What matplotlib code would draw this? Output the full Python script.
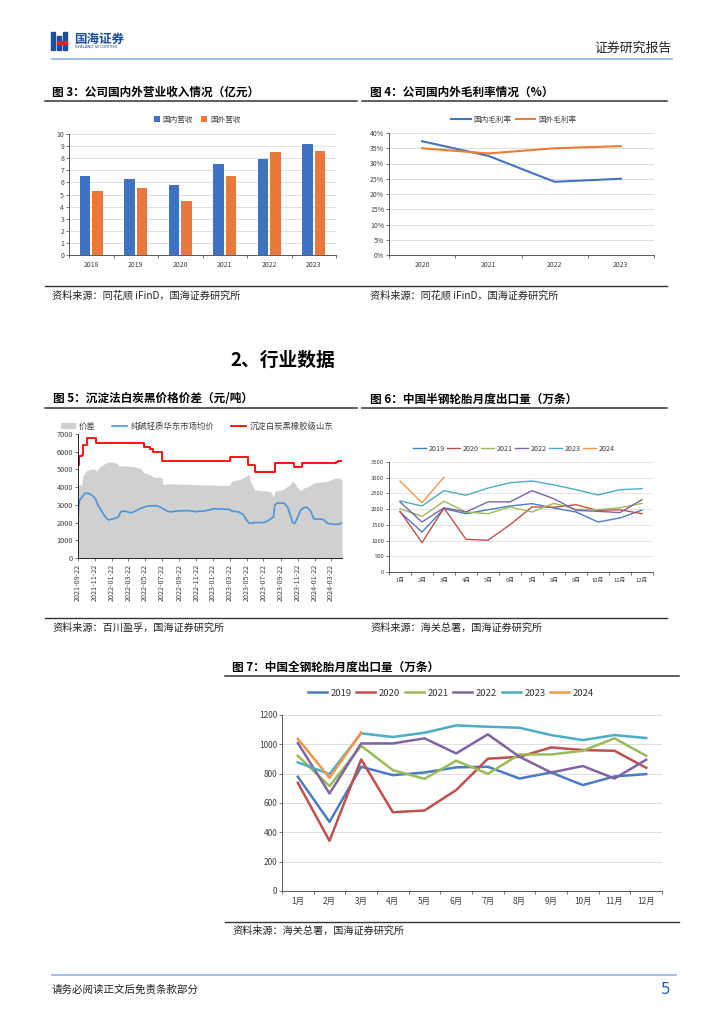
import matplotlib
matplotlib.use("Agg")
import matplotlib.pyplot as plt
from matplotlib.lines import Line2D
from matplotlib.patches import Rectangle
import numpy as np
import pandas as pd

plt.rcParams['font.family'] = ['Noto Sans CJK SC', 'DejaVu Sans']
plt.rcParams['axes.unicode_minus'] = False

# ---- 图3 国内外营收（亿元）
rev_years = ['2018', '2019', '2020', '2021', '2022', '2023']
rev_domestic = [6.5, 6.3, 5.8, 7.55, 7.9, 9.15]
rev_overseas = [5.25, 5.55, 4.45, 6.5, 8.55, 8.6]

# ---- 图4 国内外毛利率
gm_years = ['2020', '2021', '2022', '2023']
gm_domestic = [0.373, 0.325, 0.240, 0.250]
gm_overseas = [0.350, 0.333, 0.350, 0.357]

# ---- 图5 白炭黑价差（元/吨）
spread_dates = ['2021-09-22', '2021-10-05', '2021-10-10', '2021-10-24', '2021-11-17',
                '2021-11-27', '2021-12-09', '2021-12-30', '2022-01-11', '2022-02-04',
                '2022-02-16', '2022-03-18', '2022-04-11', '2022-05-05', '2022-05-19',
                '2022-06-10', '2022-06-22', '2022-07-22', '2022-07-25', '2022-08-09',
                '2022-11-01', '2023-02-05', '2023-03-23', '2023-03-31', '2023-04-30',
                '2023-05-24', '2023-06-01', '2023-06-05', '2023-06-21', '2023-08-16',
                '2023-08-27', '2023-09-02', '2023-09-28', '2023-10-22', '2023-11-06',
                '2023-11-21', '2023-12-03', '2023-12-15', '2024-01-02', '2024-01-20',
                '2024-02-25', '2024-03-20', '2024-04-13', '2024-04-30']
spread_vals = [4150, 4100, 4650, 4950, 5050, 4900, 5150, 5350, 5420, 5400,
               5200, 5200, 5150, 5050, 4800, 4700, 4550, 4550, 4150, 4200,
               4150, 4100, 4100, 4350, 4450, 4650, 4750, 4300, 3850, 3750,
               3450, 3800, 3850, 4100, 4350, 4000, 3800, 3950, 4050, 4250,
               4300, 4400, 4550, 4450]

soda_dates = ['2021-09-22', '2021-09-27', '2021-10-05', '2021-10-16', '2021-10-30',
              '2021-11-15', '2021-11-25', '2021-12-02', '2021-12-12', '2021-12-24',
              '2022-01-05', '2022-01-13', '2022-01-23', '2022-02-07', '2022-02-16',
              '2022-02-22', '2022-03-06', '2022-03-20', '2022-04-01', '2022-04-17',
              '2022-05-05', '2022-05-23', '2022-06-10', '2022-07-04', '2022-07-18',
              '2022-08-03', '2022-08-19', '2022-09-14', '2022-10-20', '2022-11-19',
              '2022-12-19', '2023-01-06', '2023-01-24', '2023-03-19', '2023-03-31',
              '2023-04-24', '2023-05-10', '2023-05-22', '2023-06-01', '2023-06-17',
              '2023-07-23', '2023-08-07', '2023-08-20', '2023-08-27', '2023-09-01',
              '2023-09-10', '2023-10-04', '2023-10-16', '2023-10-25', '2023-11-04',
              '2023-11-11', '2023-11-21', '2023-12-03', '2023-12-15', '2023-12-27',
              '2024-01-08', '2024-01-20', '2024-02-13', '2024-02-25', '2024-03-10',
              '2024-04-01', '2024-04-19', '2024-04-30']
soda_vals = [2450, 3250, 3400, 3650, 3650, 3500, 3300, 3000, 2750, 2450,
             2200, 2150, 2200, 2250, 2350, 2600, 2650, 2600, 2550, 2650,
             2800, 2900, 2950, 2950, 2850, 2700, 2600, 2650, 2680, 2620,
             2650, 2700, 2780, 2750, 2650, 2600, 2450, 2150, 1950, 2000,
             2000, 2100, 2250, 2300, 3000, 3100, 3100, 2900, 2500, 2000,
             1950, 2250, 2700, 2850, 2850, 2650, 2200, 2200, 2150, 1950,
             1900, 1900, 2000]

silica_dates = ['2021-09-22', '2021-09-26', '2021-10-05', '2021-10-10', '2021-10-24',
                '2021-11-26', '2022-05-18', '2022-06-10', '2022-06-19', '2022-07-22',
                '2023-03-25', '2023-05-29', '2023-06-21', '2023-09-02', '2023-11-09',
                '2023-12-09', '2024-04-07', '2024-04-15', '2024-04-30']
silica_vals = [5250, 5750, 5800, 6400, 6750, 6500, 6250, 6150, 6000, 5500,
               5700, 5250, 4850, 5350, 5150, 5350, 5400, 5500, 5500]

date_ticks = ['2021-09-22', '2021-11-22', '2022-01-22', '2022-03-22', '2022-05-22',
              '2022-07-22', '2022-09-22', '2022-11-22', '2023-01-22', '2023-03-22',
              '2023-05-22', '2023-07-22', '2023-09-22', '2023-11-22', '2024-01-22',
              '2024-03-22']

# ---- 图6/图7 月度出口量（万条）
months = ['1月', '2月', '3月', '4月', '5月', '6月', '7月', '8月', '9月', '10月', '11月', '12月']
series_years = ['2019', '2020', '2021', '2022', '2023', '2024']
year_colors = ['#4A7CC4', '#C0504D', '#9BBB59', '#8064A2', '#4BACC6', '#F79646']

semi_2019 = [1910, 1270, 2015, 1855, 1980, 2100, 2175, 2035, 1910, 1590, 1720, 1970]
semi_2020 = [1930, 935, 2035, 1040, 1010, 1505, 2070, 2060, 2140, 1960, 1980, 1855]
semi_2021 = [2015, 1770, 2250, 1910, 1855, 2070, 1910, 2185, 1995, 1985, 2045, 2185]
semi_2022 = [2230, 1590, 2045, 1910, 2230, 2230, 2590, 2330, 1960, 1930, 1890, 2300]
semi_2023 = [2260, 2100, 2590, 2440, 2670, 2840, 2895, 2770, 2620, 2450, 2620, 2650]
semi_2024 = [2895, 2205, 3020]

truck_2019 = [779, 471, 847, 790, 808, 843, 847, 767, 808, 722, 781, 797]
truck_2020 = [738, 342, 897, 537, 549, 688, 902, 915, 979, 961, 956, 840]
truck_2021 = [922, 715, 990, 824, 765, 888, 799, 931, 931, 956, 1041, 922]
truck_2022 = [1009, 665, 1006, 1006, 1041, 938, 1068, 915, 808, 852, 767, 895]
truck_2023 = [877, 797, 1075, 1050, 1079, 1129, 1120, 1113, 1063, 1029, 1063, 1043]
truck_2024 = [1038, 772, 1081]

W, H = 724, 1024
fig = plt.figure(figsize=(7.24, 10.24), dpi=100)


def box(l, t, r, b):
    return [l / W, 1 - b / H, (r - l) / W, (b - t) / H]


def txt(x, y, s, **kw):
    kw.setdefault('va', 'center')
    fig.text(x / W, 1 - y / H, s, **kw)


def hline(x0, x1, y, color='#333333', lw=1.0):
    fig.add_artist(Line2D([x0 / W, x1 / W], [1 - y / H, 1 - y / H], color=color, lw=lw))


def style(ax, fs=5):
    for s in ['top', 'right']:
        ax.spines[s].set_visible(False)
    for s in ['left', 'bottom']:
        ax.spines[s].set_color('#404040')
        ax.spines[s].set_linewidth(0.6)
    ax.tick_params(labelsize=fs, colors='#404040', length=2, width=0.5, pad=1.5)
    ax.set_axisbelow(True)


def cat_axis(ax, labels, fs):
    n = len(labels)
    ax.set_xlim(-0.5, n - 0.5)
    ax.set_xticks(range(n))
    ax.set_xticklabels(labels)
    ax.set_xticks(np.arange(-0.5, n, 1), minor=True)
    ax.tick_params(axis='x', which='major', length=0, labelsize=fs, pad=4)
    ax.tick_params(axis='x', which='minor', length=2.5, width=0.5, color='#404040')


# ---------- header ----------
fig.add_artist(Rectangle((51 / W, 1 - 50 / H), 4 / W, 18 / H, color='#1B4E9B', transform=fig.transFigure))
fig.add_artist(Rectangle((57 / W, 1 - 50 / H), 4 / W, 14 / H, color='#1B4E9B', transform=fig.transFigure))
fig.add_artist(Rectangle((63 / W, 1 - 50 / H), 4 / W, 18 / H, color='#1B4E9B', transform=fig.transFigure))
fig.add_artist(Rectangle((57 / W, 1 - 44 / H), 10 / W, 3 / H, color='#D7262E', transform=fig.transFigure))
txt(74, 39, '国海证券', fontsize=9, color='#1B4E9B', fontweight='bold')
txt(75, 47.5, 'SEALAND SECURITIES', fontsize=2.8, color='#1B4E9B', family=['DejaVu Sans'])
txt(672, 48, '证券研究报告', fontsize=9.3, color='#222222', ha='right')
hline(52, 672, 59, color='#8EB4E3', lw=1.2)

# ---------- 图3 ----------
txt(52, 92, '图 3：公司国内外营业收入情况（亿元）', fontsize=8.4, fontweight='bold')
hline(45, 357, 101, lw=1.1)
ax3 = fig.add_axes(box(69, 134, 336, 255))
style(ax3)
x = np.arange(len(rev_years))
ax3.bar(x - 0.14, rev_domestic, 0.23, color='#3F72C4', label='国内营收')
ax3.bar(x + 0.14, rev_overseas, 0.23, color='#E8793A', label='国外营收')
ax3.set_ylim(0, 10)
ax3.set_yticks(range(0, 11))
ax3.yaxis.grid(True, color='#D9D9D9', lw=0.6)
cat_axis(ax3, rev_years, 5)
ax3.legend(loc='center', bbox_to_anchor=(197 / W, 1 - 120 / H), bbox_transform=fig.transFigure,
           ncol=2, frameon=False, fontsize=5.5, handlelength=0.8, handleheight=0.8,
           columnspacing=1.0, handletextpad=0.4, labelcolor='#404040')

# ---------- 图4 ----------
txt(370, 92, '图 4：公司国内外毛利率情况（%）', fontsize=8.4, fontweight='bold')
hline(362, 667, 101, lw=1.1)
ax4 = fig.add_axes(box(389, 133, 654, 255))
style(ax4)
ax4.plot(range(len(gm_years)), gm_domestic, color='#4472C4', lw=1.5, label='国内毛利率')
ax4.plot(range(len(gm_years)), gm_overseas, color='#ED7D31', lw=1.5, label='国外毛利率')
ax4.set_ylim(0, 0.40)
ax4.set_yticks(np.arange(0, 0.401, 0.05))
ax4.set_yticklabels([f'{int(round(v * 100))}%' for v in np.arange(0, 0.401, 0.05)])
ax4.yaxis.grid(True, color='#D9D9D9', lw=0.6)
cat_axis(ax4, gm_years, 5)
ax4.legend(loc='center', bbox_to_anchor=(514 / W, 1 - 120 / H), bbox_transform=fig.transFigure,
           ncol=2, frameon=False, fontsize=5.5, handlelength=2.5, columnspacing=0.6,
           handletextpad=0.4, labelcolor='#404040')

# sources row 1
hline(45, 667, 286, lw=1.0)
txt(52, 295, '资料来源：同花顺 iFinD，国海证券研究所', fontsize=7.3, color='#222222')
txt(370, 295, '资料来源：同花顺 iFinD，国海证券研究所', fontsize=7.3, color='#222222')

txt(283, 360, '2、行业数据', fontsize=13.5, fontweight='bold', ha='center')

# ---------- 图5 ----------
txt(53, 399, '图 5：沉淀法白炭黑价格价差（元/吨）', fontsize=8.4, fontweight='bold')
hline(45, 357, 408, lw=1.1)
ax5 = fig.add_axes(box(78, 434, 342, 558))
style(ax5, fs=5.3)
ax5.spines['left'].set_color('#000000')
ax5.spines['bottom'].set_color('#000000')
sd = pd.to_datetime(spread_dates)
ax5.fill_between(sd, spread_vals, 0, color='#D0D0D0', lw=0, label='价差')
ax5.plot(pd.to_datetime(soda_dates), soda_vals, color='#4A94D8', lw=1.2, label='纯碱轻质华东市场均价')
ax5.plot(pd.to_datetime(silica_dates), silica_vals, color='#FF0000', lw=1.3,
         drawstyle='steps-post', label='沉淀白炭黑橡胶级山东')
ax5.set_ylim(0, 7000)
ax5.set_yticks(range(0, 7001, 1000))
ax5.set_xlim(pd.Timestamp('2021-09-22'), pd.Timestamp('2024-04-30'))
ax5.set_xticks(pd.to_datetime(date_ticks))
ax5.set_xticklabels(date_ticks, rotation=90, fontsize=5.2)
ax5.tick_params(axis='x', length=2.5, pad=1.5)
ax5.legend(loc='center', bbox_to_anchor=(197 / W, 1 - 426 / H), bbox_transform=fig.transFigure,
           ncol=3, frameon=False, fontsize=6.0, handlelength=1.8, columnspacing=2.0,
           handletextpad=0.4, labelcolor='#404040')

# ---------- 图6 ----------
txt(370, 399, '图 6：中国半钢轮胎月度出口量（万条）', fontsize=8.4, fontweight='bold')
hline(362, 667, 408, lw=1.1)
ax6 = fig.add_axes(box(389, 462, 653, 572))
style(ax6, fs=4.2)
semi = [semi_2019, semi_2020, semi_2021, semi_2022, semi_2023, semi_2024]
for yr, vals, c in zip(series_years, semi, year_colors):
    ax6.plot(range(len(vals)), vals, color=c, lw=1.0, label=yr)
ax6.set_ylim(0, 3500)
ax6.set_yticks(range(0, 3501, 500))
ax6.yaxis.grid(True, color='#D9D9D9', lw=0.5)
cat_axis(ax6, months, 4.2)
ax6.legend(loc='center', bbox_to_anchor=(514 / W, 1 - 449 / H), bbox_transform=fig.transFigure,
           ncol=6, frameon=False, fontsize=5.2, handlelength=1.8, columnspacing=0.3,
           handletextpad=0.4, labelcolor='#404040')

# sources row 2
hline(45, 667, 618, lw=1.0)
txt(52, 628, '资料来源：百川盈孚，国海证券研究所', fontsize=7.3, color='#222222')
txt(370, 628, '资料来源：海关总署，国海证券研究所', fontsize=7.3, color='#222222')

# ---------- 图7 ----------
txt(232, 667, '图 7：中国全钢轮胎月度出口量（万条）', fontsize=8.4, fontweight='bold')
hline(225, 679, 676, lw=1.1)
ax7 = fig.add_axes(box(282, 715, 662, 891))
style(ax7, fs=6)
truck = [truck_2019, truck_2020, truck_2021, truck_2022, truck_2023, truck_2024]
for yr, vals, c in zip(series_years, truck, year_colors):
    ax7.plot(range(len(vals)), vals, color=c, lw=1.8, label=yr)
ax7.set_ylim(0, 1200)
ax7.set_yticks(range(0, 1201, 200))
ax7.yaxis.grid(True, color='#D9D9D9', lw=0.6)
cat_axis(ax7, months, 6)
ax7.legend(loc='center', bbox_to_anchor=(451 / W, 1 - 693 / H), bbox_transform=fig.transFigure,
           ncol=6, frameon=False, fontsize=6.8, handlelength=2.0, columnspacing=0.5,
           handletextpad=0.4, labelcolor='#333333')

hline(225, 679, 922, lw=1.0)
txt(232, 931, '资料来源：海关总署，国海证券研究所', fontsize=7.3, color='#222222')

# ---------- footer ----------
hline(52, 676, 975, color='#8EB4E3', lw=1.2)
txt(52, 990, '请务必阅读正文后免责条款部分', fontsize=7.6, color='#222222')
txt(670, 989, '5', fontsize=11, color='#1F5FD0', ha='right', family=['DejaVu Sans'])

fig.savefig('out.png', dpi=100)
